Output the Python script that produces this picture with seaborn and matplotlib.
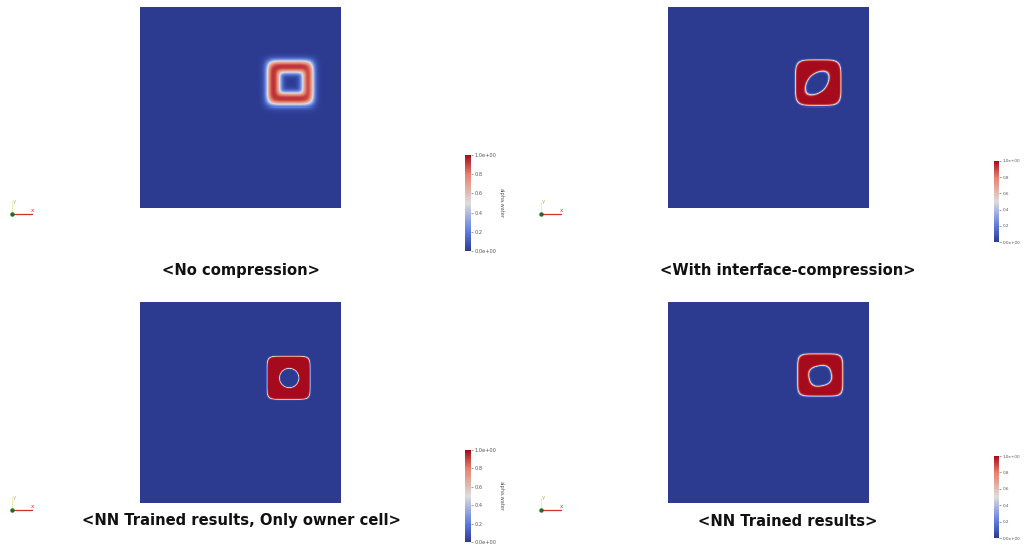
import numpy as np
import matplotlib
matplotlib.use("Agg")
import matplotlib.pyplot as plt
from matplotlib.colors import LinearSegmentedColormap
import seaborn as sns

sns.set_theme(style="white")
plt.rcParams["font.family"] = ["DejaVu Sans"]

# Volume fraction field (alpha.water) for four advection schemes
panel_titles = [
    "<No compression>",
    "<With interface-compression>",
    "<NN Trained results, Only owner cell>",
    "<NN Trained results>",
]
# outer boundary of the water blob (fractions of the domain, y measured from the top)
outer_cx = [0.746, 0.746, 0.738, 0.756]
outer_cy = [0.378, 0.378, 0.379, 0.365]
outer_hx = [0.114, 0.114, 0.108, 0.113]
outer_hy = [0.108, 0.114, 0.108, 0.106]
outer_p = [6.0, 5.0, 7.0, 6.0]
# inner air hole
hole_cx = [0.751, 0.741, 0.741, 0.756]
hole_cy = [0.378, 0.380, 0.380, 0.369]
hole_a = [0.058, 0.072, 0.048, 0.056]
hole_b = [0.052, 0.046, 0.048, 0.050]
hole_angle = [0.0, -45.0, 0.0, -12.0]
hole_p = [6.0, 1.8, 2.0, 2.6]
# interface thickness (smearing)
interface_w = [0.017, 0.004, 0.003, 0.004]

cbar_ticks = [0.0, 0.2, 0.4, 0.6, 0.8, 1.0]
cbar_labels = ["0.0e+00", "0.2", "0.4", "0.6", "0.8", "1.0e+00"]
cbar_title = "alpha.water"

N = 200
W, H = 1025, 547

cmap = LinearSegmentedColormap.from_list(
    "cool_warm",
    [(0.0, "#2c3b90"), (0.2, "#5b7be0"), (0.5, "#dddddd"),
     (0.8, "#e8806a"), (1.0, "#a50b1c")],
)


def superellipse_dist(X, Y, cx, cy, a, b, p, ang):
    t = np.deg2rad(ang)
    u = (X - cx) * np.cos(t) + (Y - cy) * np.sin(t)
    v = -(X - cx) * np.sin(t) + (Y - cy) * np.cos(t)
    r = ((np.abs(u) / a) ** p + (np.abs(v) / b) ** p) ** (1.0 / p)
    return (r - 1.0) * min(a, b)


def step(d, w):
    return 0.5 * (1.0 - np.tanh(d / w))


g = (np.arange(N) + 0.5) / N
X, Y = np.meshgrid(g, g)

fig = plt.figure(figsize=(W / 100, H / 100), dpi=100)


def px_axes(x0, y0, x1, y1):
    return fig.add_axes([x0 / W, 1 - y1 / H, (x1 - x0) / W, (y1 - y0) / H])


domain_px = [(140, 7, 341, 208), (668, 7, 869, 208),
             (140, 302, 341, 503), (668, 302, 869, 503)]
cbar_px = [(465, 155, 471, 251), (994, 161, 999, 242),
           (465, 450, 471, 542), (994, 456, 999, 538)]
cbar_fs = [3.6, 3.0, 3.6, 3.0]
show_cbar_title = [True, False, True, False]
title_xy = [(241, 270), (788, 270), (241, 521), (788, 521)]
triad_xy = [(12, 214), (541, 214), (12, 510), (541, 510)]

for i in range(4):
    outer = step(superellipse_dist(X, Y, outer_cx[i], outer_cy[i], outer_hx[i],
                                   outer_hy[i], outer_p[i], 0.0), interface_w[i])
    hole = step(superellipse_dist(X, Y, hole_cx[i], hole_cy[i], hole_a[i],
                                  hole_b[i], hole_p[i], hole_angle[i]), interface_w[i])
    alpha = np.clip(outer * (1.0 - hole), 0, 1)

    ax = px_axes(*domain_px[i])
    cax = px_axes(*cbar_px[i])
    sns.heatmap(alpha, ax=ax, cmap=cmap, vmin=0, vmax=1, cbar=True, cbar_ax=cax,
                xticklabels=False, yticklabels=False, rasterized=True)
    for s in ax.spines.values():
        s.set_visible(False)
    cb = ax.collections[0].colorbar
    cb.set_ticks(cbar_ticks)
    cb.set_ticklabels(cbar_labels)
    cb.outline.set_visible(False)
    cax.tick_params(labelsize=cbar_fs[i], length=1.5, width=0.4, pad=1,
                    colors="#555555")
    if show_cbar_title[i]:
        x1 = cbar_px[i][2]
        ymid = (cbar_px[i][1] + cbar_px[i][3]) / 2
        fig.text((x1 + 30) / W, 1 - ymid / H, cbar_title, fontsize=cbar_fs[i],
                 rotation=-90, ha="center", va="center", color="#555555")

    tx, ty = title_xy[i]
    fig.text(tx / W, 1 - ty / H, panel_titles[i], fontsize=10.6,
             fontweight="bold", ha="center", va="center", color="#111111")

    # orientation triad
    ox, oy = triad_xy[i]
    fig.add_artist(plt.Line2D([ox / W, (ox + 20) / W], [1 - oy / H, 1 - oy / H],
                              color="#d03030", lw=0.9, transform=fig.transFigure))
    fig.add_artist(plt.Line2D([ox / W, ox / W], [1 - oy / H, 1 - (oy - 12) / H],
                              color="#f0f0b0", lw=0.8, transform=fig.transFigure))
    fig.add_artist(plt.Line2D([ox / W], [1 - oy / H], marker="o", ms=2.2,
                              color="#207020", transform=fig.transFigure))
    fig.text((ox + 2) / W, 1 - (oy - 13) / H, "y", fontsize=4, color="#b8b860",
             ha="center", va="center")
    fig.text((ox + 20) / W, 1 - (oy - 1) / H, "x", fontsize=4, color="#d03030",
             ha="center", va="bottom")

fig.savefig("out.png", dpi=100, facecolor="white")
